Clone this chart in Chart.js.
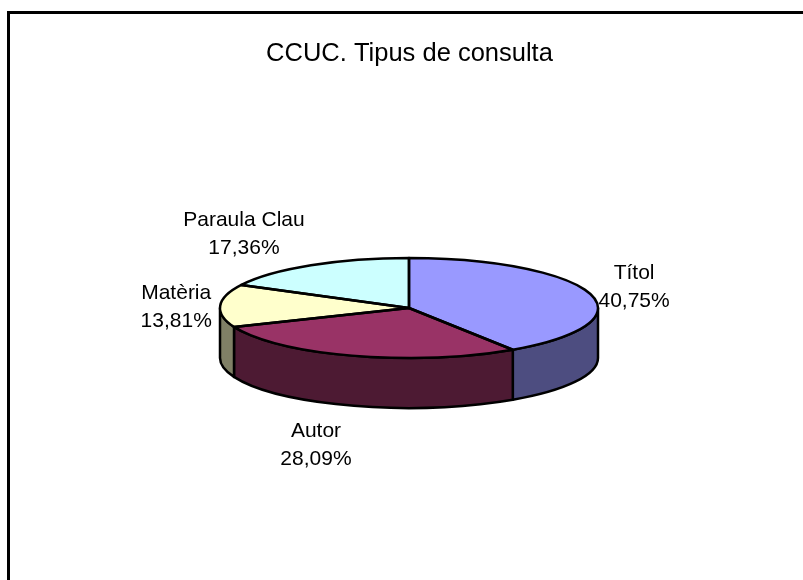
<!DOCTYPE html>
<html><head><meta charset="utf-8">
<style>html,body{margin:0;padding:0;background:#fff;overflow:hidden}
#wrap{position:absolute;left:0;top:0;width:803px;height:580px}</style>
<script src="https://cdn.jsdelivr.net/npm/chart.js@4"></script></head>
<body><div id="wrap"><canvas id="c" width="803" height="580"></canvas></div>
<script>
const categories = ['Títol','Autor','Matèria','Paraula Clau'];
const percentLabels = ['40,75%','28,09%','13,81%','17,36%'];
const values = [40.75,28.09,13.81,17.36];
const topColors = ['#9999FF','#993366','#FFFFCC','#CCFFFF'];
const sideColors = ['#4D4D80','#4D1A33','#808066','#668080'];
const titleText = 'CCUC. Tipus de consulta';
const FONT = '"Liberation Sans", Arial, sans-serif';
const SQUASH = 50/189, DEPTH = 50, OUTLINE = 2.5;

function sliceDepthPath(ctx,a,from,to){
  const ry=a.outerRadius*SQUASH;
  ctx.beginPath();
  ctx.ellipse(a.x,a.y,a.outerRadius,ry,0,from,to,false);
  ctx.lineTo(a.x+a.outerRadius*Math.cos(to),a.y+ry*Math.sin(to)+DEPTH);
  ctx.ellipse(a.x,a.y+DEPTH,a.outerRadius,ry,0,to,from,true);
  ctx.closePath();
}
function labelAnchor(a,m,i){
  const ex=a.x+a.outerRadius*Math.cos(m), ey=a.y+a.outerRadius*SQUASH*Math.sin(m);
  const gap=[[44,-15],[-37,81],[-44,-7],[-67,-39]][i];
  return {x:ex+gap[0],y:ey+gap[1]};
}
const pie3d = {
  id:'pie3d',
  beforeDatasetsDraw(chart){
    const ctx=chart.ctx, arcs=chart.getDatasetMeta(0).data;
    ctx.save();
    ctx.strokeStyle='#000'; ctx.lineWidth=OUTLINE; ctx.lineJoin='round';
    arcs.forEach((a,i)=>{
      const from=Math.max(a.startAngle,0), to=Math.min(a.endAngle,Math.PI);
      if(to<=from) return;
      sliceDepthPath(ctx,a,from,to);
      ctx.fillStyle=sideColors[i]; ctx.fill(); ctx.stroke();
    });
    ctx.restore();
    const a=arcs[0];
    ctx.save();
    ctx.translate(a.x,a.y); ctx.scale(1,SQUASH); ctx.translate(-a.x,-a.y);
  },
  afterDatasetsDraw(chart){
    const ctx=chart.ctx, arcs=chart.getDatasetMeta(0).data;
    ctx.restore();
    ctx.save();
    ctx.strokeStyle='#000'; ctx.lineWidth=OUTLINE; ctx.lineJoin='round';
    arcs.forEach(a=>{
      ctx.beginPath();
      ctx.moveTo(a.x,a.y);
      ctx.ellipse(a.x,a.y,a.outerRadius,a.outerRadius*SQUASH,0,a.startAngle,a.endAngle,false);
      ctx.closePath();
      ctx.stroke();
    });
    ctx.restore();
    ctx.save();
    ctx.fillStyle='#000'; ctx.font='21px '+FONT; ctx.textAlign='center'; ctx.textBaseline='alphabetic';
    arcs.forEach((a,i)=>{
      const m=(a.startAngle+a.endAngle)/2;
      const p=labelAnchor(a,m,i);
      ctx.fillText(categories[i],p.x,p.y);
      ctx.fillText(percentLabels[i],p.x,p.y+28);
    });
    ctx.restore();
    ctx.save();
    ctx.strokeStyle='#000'; ctx.lineWidth=3;
    ctx.beginPath(); ctx.moveTo(8.5,581); ctx.lineTo(8.5,12.5); ctx.lineTo(804,12.5); ctx.stroke();
    ctx.restore();
  }
};
new Chart(document.getElementById('c'),{
  type:'pie',
  data:{labels:categories,datasets:[{data:values,backgroundColor:topColors,borderWidth:0}]},
  options:{
    responsive:false,animation:false,
    layout:{padding:{left:220,right:205,top:119,bottom:83}},
    plugins:{legend:{display:false},tooltip:{enabled:false},title:{display:false}}
  },
  plugins:[pie3d,{
    id:'heading',
    afterDraw(chart){
      const ctx=chart.ctx; ctx.save();
      ctx.fillStyle='#000'; ctx.font='25.5px '+FONT; ctx.textAlign='center';
      ctx.fillText(titleText,409.5,61); ctx.restore();
    }
  }]
});
</script></body></html>
